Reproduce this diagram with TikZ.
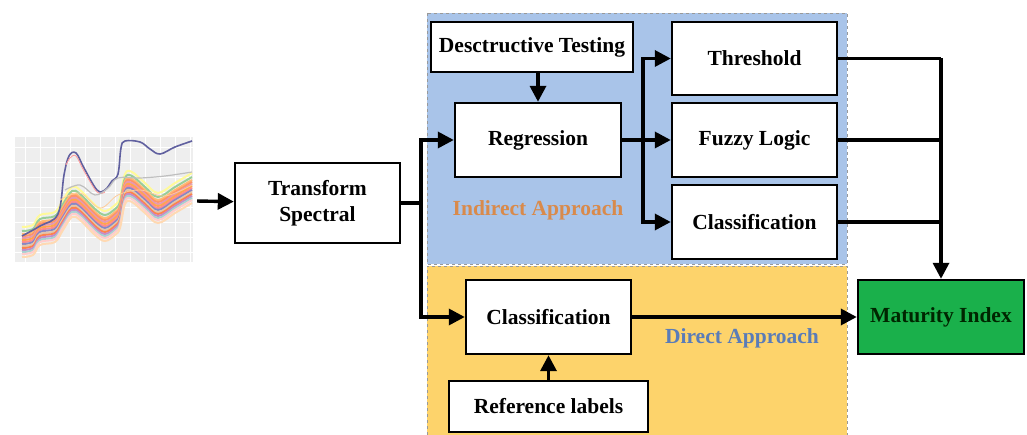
\documentclass[tikz,border=0pt]{standalone}
\usepackage{fontspec}
\setmainfont{Liberation Serif}
\usetikzlibrary{arrows.meta}
\definecolor{bluereg}{HTML}{A9C4E9}
\definecolor{yellreg}{HTML}{FDD36B}
\definecolor{greenbox}{HTML}{1AB04B}
\definecolor{orangetxt}{HTML}{D98A4B}
\definecolor{bluetxt}{HTML}{5A7CB8}
\begin{document}
\begin{tikzpicture}[x=1pt,y=-1pt,
  box/.style={draw=black,line width=2.4pt,fill=white,rectangle,inner sep=0pt,
    font=\fontsize{21.5}{26}\selectfont\bfseries,align=center},
  conn/.style={line width=3.4pt,draw=black},
  arr/.style={conn,-{Triangle[length=16pt,width=16pt]}},
  region/.style={draw=gray!80,dashed,line width=0.8pt},
  lbl/.style={font=\fontsize{21.5}{26}\selectfont\bfseries}]
\useasboundingbox (0,0) rectangle (1027,435);
% regions
\fill[bluereg] (427,13) rectangle (847,264);
\draw[region] (427,13) rectangle (847,264);
\fill[yellreg] (427,266) rectangle (847,435);
\draw[region] (427,435) -- (427,266) -- (847,266) -- (847,435);
% spectral image
\node[rectangle,fill=gray!13,minimum width=178pt,minimum height=125pt,inner sep=0pt] (img) at (104,199.5) {};
\begin{scope}
\clip (15,137) rectangle (193,262);
\foreach \gx in {25,40,55,70,85,100,115,130,145,160,175,190} \draw[white,line width=0.5pt] (\gx,137) -- (\gx,262);
\foreach \gy in {147,162,177,192,207,222,237,252} \draw[white,line width=0.5pt] (15,\gy) -- (193,\gy);
\foreach \o/\c in {-16/yellow!40!white,-12/green!35!gray!60,-9/orange!55,-7/red!40!orange!60,-5/purple!40,-3/orange!70,-1/red!45,1/blue!35!gray!70,3/brown!45,5/orange!60!red!70,7/violet!45,9/teal!35,11/pink!80,14/orange!30} {
  \draw[\c,line width=2pt,shift={(0,\o)}] plot[smooth,tension=0.6] coordinates {(22,243) (33,241) (40,231) (55,228) (63,216) (72,203) (80,206) (95,221) (105,227) (115,221) (120,214) (125,190) (132,188) (145,199) (158,209) (175,199) (192,189)};
}
\draw[gray!75!blue,line width=1.6pt] plot[smooth,tension=0.6] coordinates {(22,236) (40,226) (58,214) (64,175) (69,156) (76,153) (84,168) (97,190) (105,190) (112,181) (118,174) (121,148) (125,141) (140,142) (150,149) (160,154) (175,147) (192,141)};
\draw[pink!80!red,line width=0.8pt] plot[smooth,tension=0.6] coordinates {(66,165) (70,158) (76,156) (84,171) (97,192) (105,192)};
\draw[gray!50,line width=1.2pt] plot[smooth,tension=0.6] coordinates {(65,190) (80,185) (95,195) (108,188) (118,178) (140,178) (165,176) (192,172)};
\draw[orange!40,line width=0.8pt] plot[smooth,tension=0.6] coordinates {(60,200) (80,193) (100,208) (118,195) (140,190) (165,196) (192,185)};
\end{scope}
% nodes
\node[box,minimum width=165pt,minimum height=80pt] (ts) at (317.5,203) {Transform\\Spectral};
\node[box,minimum width=202pt,minimum height=50pt] (dt) at (532,47) {Desctructive Testing};
\node[box,minimum width=166pt,minimum height=74pt] (reg) at (538,140) {Regression};
\node[box,minimum width=165pt,minimum height=73pt] (thr) at (754.5,58.5) {Threshold};
\node[box,minimum width=165pt,minimum height=74pt] (fuz) at (754.5,140) {Fuzzy Logic};
\node[box,minimum width=165pt,minimum height=74pt] (cls1) at (754.5,222) {Classification};
\node[box,minimum width=165pt,minimum height=74pt] (cls2) at (548.5,317) {Classification};
\node[box,minimum width=199pt,minimum height=51pt] (ref) at (548.5,406.5) {Reference labels};
\node[box,fill=greenbox,text=black!85!green,minimum width=166pt,minimum height=74pt] (mat) at (941,317) {Maturity Index};
\node[lbl,text=orangetxt] (ia) at (538,210) {Indirect Approach};
\node[lbl,text=bluetxt] (da) at (742,338) {Direct Approach};
% connectors
\coordinate (ja) at (421,203);
\coordinate (jb) at (643,140);
\coordinate (jc) at (941,58.5);
\draw[arr,shorten <=4pt] (img) -- (ts);
\draw[conn] (ts.east) -- (ja);
\draw[arr] (ja) |- (reg.west);
\draw[arr] (ja) |- (cls2.west);
\draw[arr] (reg.north |- dt.south) -- (reg.north);
\draw[conn] (reg.east) -- (jb);
\draw[arr] (jb) |- (thr.west);
\draw[arr] (jb) -- (fuz.west);
\draw[arr] (jb) |- (cls1.west);
\draw[conn] (thr.east) -- (jc);
\draw[conn] (fuz.east) -- (fuz.east -| jc);
\draw[conn] (cls1.east) -- (cls1.east -| jc);
\draw[arr] (jc) -- (mat.north);
\draw[arr] (cls2.east) -- (mat.west);
\draw[arr] (ref.north) -- (cls2.south);
\end{tikzpicture}
\end{document}
